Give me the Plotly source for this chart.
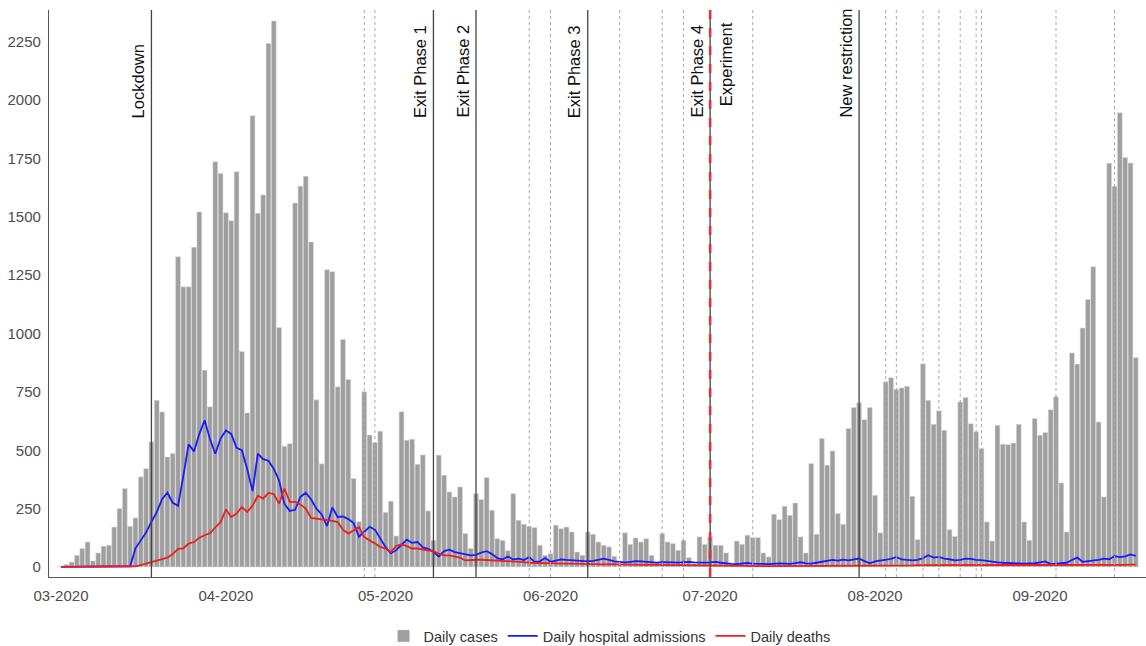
import pandas as pd
import plotly.graph_objects as go

# ---------------- data ----------------
start_date = "2020-03-01"

cases_mar = [2, 10, 21, 50, 79, 107, 26, 60, 89, 93, 171, 250, 336, 174, 210, 386, 421, 536,
             714, 664, 471, 486, 1329, 1200, 1200, 1370, 1521, 843, 686, 1736, 1686]
cases_apr = [1517, 1483, 1693, 923, 660, 1933, 1515, 1594, 2243, 2339, 1026, 517, 528, 1559, 1631,
             1674, 1392, 716, 442, 1273, 1265, 772, 974, 803, 379, 194, 751, 565, 533, 581]
cases_may = [234, 282, 133, 665, 543, 547, 440, 480, 240, 114, 479, 393, 321, 300, 343, 143, 79,
             314, 289, 383, 243, 121, 114, 70, 314, 200, 183, 174, 169, 93, 50]
cases_jun = [57, 179, 164, 171, 150, 64, 50, 150, 140, 107, 93, 86, 46, 14, 146, 97, 124, 107, 121,
             50, 21, 143, 107, 100, 71, 114, 40, 14, 129, 97]
cases_jul = [129, 93, 93, 60, 11, 111, 97, 136, 126, 126, 60, 43, 226, 203, 260, 221, 274, 129, 60,
             443, 140, 550, 436, 497, 229, 183, 593, 683, 703, 631, 683]
cases_aug = [307, 146, 793, 811, 760, 767, 774, 303, 117, 871, 714, 611, 669, 586, 160, 131, 707,
             726, 614, 579, 507, 193, 111, 607, 526, 524, 531, 611, 193, 114, 636]
cases_sep = [564, 576, 674, 729, 360, 150, 917, 869, 1024, 1146, 1286, 621, 300, 1729, 1631, 1946,
             1754, 1731, 897]

hosp_mar = [0] * 13 + [3, 80, 112, 148, 193, 235, 290, 318, 275, 262, 390, 525, 495, 570, 628, 548,
                       485, 550]
hosp_apr = [585, 570, 510, 500, 420, 325, 485, 462, 455, 420, 370, 270, 240, 245, 300, 318, 290, 250,
            225, 175, 255, 214, 216, 205, 188, 130, 150, 172, 160, 125]
hosp_may = [85, 58, 72, 95, 117, 103, 107, 84, 78, 65, 45, 68, 74, 64, 60, 54, 50, 52, 62, 68, 55, 38,
            32, 45, 32, 36, 30, 42, 22, 24, 38]
hosp_jun = [22, 28, 32, 30, 28, 27, 25, 24, 26, 30, 36, 30, 24, 22, 20, 22, 25, 24, 22, 20, 19, 21, 22,
            20, 19, 21, 22, 20, 18, 19]
hosp_jul = [20, 22, 18, 14, 13, 12, 15, 17, 14, 12, 13, 12, 14, 15, 14, 13, 16, 20, 15, 14, 18, 22, 28,
            30, 27, 31, 28, 33, 36, 25, 16]
hosp_aug = [24, 28, 30, 35, 43, 32, 30, 28, 30, 38, 50, 40, 43, 36, 33, 28, 30, 36, 35, 30, 29, 25, 22,
            20, 18, 16, 15, 15, 14, 14, 16]
hosp_sep = [20, 24, 12, 14, 17, 18, 30, 40, 22, 24, 29, 30, 36, 33, 46, 42, 45, 54, 48]

death_mar = [0] * 13 + [1, 3, 8, 14, 20, 28, 34, 40, 55, 78, 80, 100, 107, 125, 136, 145, 170, 192]
death_apr = [246, 214, 229, 257, 236, 262, 305, 293, 317, 312, 271, 336, 279, 279, 268, 250, 210, 207,
             205, 200, 197, 192, 160, 143, 157, 171, 128, 114, 100, 86]
death_may = [79, 64, 90, 97, 89, 79, 79, 75, 71, 67, 57, 50, 50, 45, 40, 28, 31, 31, 31, 30, 30, 29, 28,
             26, 26, 24, 21, 18, 17, 17, 17]
death_jun = [16, 15, 15, 14, 14, 13, 13, 12, 12, 12, 11, 12, 11, 10, 10, 10, 9, 9, 10, 9, 8, 8, 9, 8, 8,
             8, 7, 7, 7, 7]
death_jul = [6, 6, 6, 5, 5, 5, 5, 5, 4, 5, 4, 4, 4, 4, 5, 4, 4, 5, 4, 4, 5, 5, 5, 5, 5, 5, 5, 6, 6, 6, 6]
death_aug = [6, 6, 6, 7, 7, 7, 7, 7, 8, 8, 8, 8, 8, 8, 8, 7, 7, 7, 7, 7, 7, 7, 7, 6, 6, 6, 6, 6, 6, 6, 6]
death_sep = [6, 6, 6, 6, 7, 7, 7, 7, 7, 8, 8, 8, 8, 8, 9, 9, 9, 10, 10]

event_labels = ["Lockdown", "Exit Phase 1", "Exit Phase 2", "Exit Phase 3", "Exit Phase 4", "New restriction"]
event_dates = ["2020-03-18", "2020-05-10", "2020-05-18", "2020-06-08", "2020-07-01", "2020-07-29"]
experiment_label = "Experiment"
experiment_date = "2020-07-01"
minor_dates = ["2020-04-27", "2020-04-29", "2020-05-28", "2020-06-01", "2020-06-14", "2020-06-22",
               "2020-06-26", "2020-07-09", "2020-08-03", "2020-08-05", "2020-08-10", "2020-08-13",
               "2020-08-17", "2020-08-20", "2020-08-21", "2020-09-04", "2020-09-15"]

month_ticks = ["2020-03-01", "2020-04-01", "2020-05-01", "2020-06-01", "2020-07-01", "2020-08-01",
               "2020-09-01"]
y_ticks = [0, 250, 500, 750, 1000, 1250, 1500, 1750, 2000, 2250]

# ---------------- build ----------------
cases = cases_mar + cases_apr + cases_may + cases_jun + cases_jul + cases_aug + cases_sep
hosp = hosp_mar + hosp_apr + hosp_may + hosp_jun + hosp_jul + hosp_aug + hosp_sep
deaths = death_mar + death_apr + death_may + death_jun + death_jul + death_aug + death_sep
dates = pd.date_range(start_date, periods=len(cases), freq="D")

FONT = "Liberation Sans, Arial, Helvetica, sans-serif"

fig = go.Figure()
fig.add_trace(go.Bar(x=dates, y=cases, name="Daily cases",
                     marker=dict(color="#9f9f9f", line=dict(color="#dcdcdc", width=0.5))))
fig.add_trace(go.Scatter(x=dates, y=hosp, name="Daily hospital admissions", mode="lines",
                         line=dict(color="#1a1aff", width=1.8)))
fig.add_trace(go.Scatter(x=dates, y=deaths, name="Daily deaths", mode="lines",
                         line=dict(color="#f01e1e", width=1.8)))

shapes = []
for d in minor_dates:
    shapes.append(dict(type="line", xref="x", yref="paper", x0=d, x1=d, y0=0, y1=1,
                       line=dict(color="#aaaaaa", width=1, dash="dot"), layer="above"))
for d in event_dates:
    shapes.append(dict(type="line", xref="x", yref="paper", x0=d, x1=d, y0=0, y1=1,
                       line=dict(color="#444444", width=1.3), layer="above"))
shapes.append(dict(type="line", xref="x", yref="paper", x0=experiment_date, x1=experiment_date,
                   y0=0, y1=1, line=dict(color="#d7373c", width=2.6, dash="dash"), layer="above"))

annotations = []
for lab, d in zip(event_labels, event_dates):
    annotations.append(dict(x=d, y=1915, xref="x", yref="y", text=lab, textangle=-90,
                            showarrow=False, xanchor="right", yanchor="bottom", xshift=-2,
                            font=dict(family=FONT, size=16.5, color="#111111")))
annotations.append(dict(x=experiment_date, y=1966, xref="x", yref="y", text=experiment_label,
                        textangle=-90, showarrow=False, xanchor="left", yanchor="bottom", xshift=5,
                        font=dict(family=FONT, size=16.5, color="#111111")))

fig.update_layout(
    width=1146, height=646,
    margin=dict(l=49, r=0, t=10, b=69, autoexpand=False),
    plot_bgcolor="white", paper_bgcolor="white",
    bargap=0.1,
    font=dict(family=FONT, color="#4d4d4d"),
    shapes=shapes, annotations=annotations,
    legend=dict(orientation="h", x=0.511, xanchor="center", y=-0.104, yanchor="middle",
                font=dict(family=FONT, size=14.5, color="#333333"), bgcolor="rgba(0,0,0,0)"),
    xaxis=dict(type="date", range=["2020-02-27 18:00", "2020-09-20 22:00"],
               tickvals=month_ticks, tickformat="%m-%Y", showgrid=False, zeroline=False,
               showline=True, linecolor="#555555", linewidth=1.3,
               ticks="outside", ticklen=5, tickcolor="rgba(0,0,0,0)",
               tickfont=dict(family=FONT, size=15, color="#4d4d4d")),
    yaxis=dict(range=[-43, 2386], tickvals=y_ticks, showgrid=False, zeroline=False,
               showline=True, linecolor="#555555", linewidth=1.3,
               ticks="outside", ticklen=4, tickcolor="rgba(0,0,0,0)",
               tickfont=dict(family=FONT, size=15, color="#4d4d4d")),
)

fig.write_html("out.html", config={"displayModeBar": False},
               post_script="document.body.style.margin='0px';document.body.style.overflow='hidden';")
